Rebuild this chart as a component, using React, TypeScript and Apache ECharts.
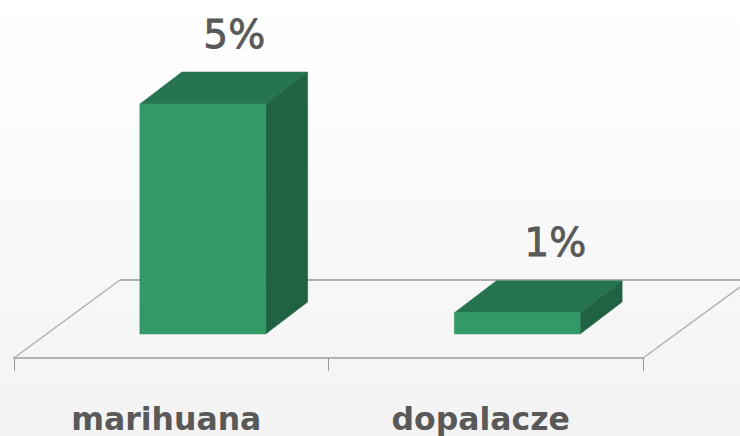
import React, { useEffect, useRef } from "react";
import * as echarts from "echarts";

const categories = ["marihuana", "dopalacze"];
const barHeights = [5, 0.46];
const valueLabels = ["5%", "1%"];
const labelShiftX = [63, 69.5];

const FRONT = "#339966";
const TOP = "#277550";
const SIDE = "#206344";
const TEXT = "#595959";
const LINE = "#b0b0b0";

const FLOOR_DX = 32;
const FLOOR_DY = 24;
const DEPTH_DX = 42;
const DEPTH_DY = 32;
const BAR_RATIO = 0.4;

function renderBar(params: any, api: any) {
  const i = api.value(0);
  const base = api.coord([i, 0]);
  const tip = api.coord([i, api.value(1)]);
  const w = api.size([1, 0])[0] * BAR_RATIO;
  const l = base[0] + FLOOR_DX - w / 2 - 0.5;
  const r = l + w;
  const b = base[1] - FLOOR_DY;
  const t = tip[1] - FLOOR_DY;
  const poly = (points: number[][], fill: string) => ({
    type: "polygon",
    shape: { points },
    style: { fill, stroke: fill, lineWidth: 0.5 },
  });
  return {
    type: "group",
    children: [
      poly([[l, t], [l + DEPTH_DX, t - DEPTH_DY], [r + DEPTH_DX, t - DEPTH_DY], [r, t]], TOP),
      poly([[r, t], [r + DEPTH_DX, t - DEPTH_DY], [r + DEPTH_DX, b - DEPTH_DY], [r, b]], SIDE),
      poly([[l, t], [r, t], [r, b], [l, b]], FRONT),
      {
        type: "text",
        style: {
          text: valueLabels[i],
          x: base[0] + labelShiftX[i],
          y: t - 70,
          align: "center",
          verticalAlign: "middle",
          fill: TEXT,
          stroke: TEXT,
          lineWidth: 0.8,
          font: "39px 'DejaVu Sans'",
        },
      },
    ],
  };
}

export default function App() {
  const ref = useRef<HTMLDivElement>(null);
  useEffect(() => {
    const chart = echarts.init(ref.current!, undefined, { renderer: "svg" });
    const floorLine = (x1: number, y1: number, x2: number, y2: number, lineWidth: number) => ({
      type: "line",
      z: 0,
      shape: { x1, y1, x2, y2 },
      style: { stroke: LINE, lineWidth },
    });
    chart.setOption({
      animation: false,
      backgroundColor: new echarts.graphic.LinearGradient(0, 0, 0, 1, [
        { offset: 0, color: "#ffffff" },
        { offset: 1, color: "#f3f3f3" },
      ]),
      grid: { left: 14, top: 82, width: 629, height: 276 },
      xAxis: {
        type: "category",
        data: categories,
        axisLine: { show: true, lineStyle: { color: LINE, width: 2 } },
        axisTick: { show: true, length: 13, lineStyle: { color: "#9a9a9a", width: 1 } },
        axisLabel: {
          color: TEXT,
          fontFamily: "DejaVu Sans",
          fontWeight: "bold",
          fontSize: 31.5,
          margin: 45,
          padding: [0, 10, 0, 0],
        },
      },
      yAxis: { type: "value", min: 0, max: 6, interval: 1, show: false },
      graphic: [
        floorLine(14, 358, 120, 280, 1.5),
        floorLine(120, 280, 740, 280, 2),
        floorLine(643, 358, 740, 287, 1.5),
      ],
      series: [
        {
          type: "custom",
          z: 5,
          clip: false,
          renderItem: renderBar,
          encode: { x: 0, y: 1 },
          data: barHeights.map((v, i) => [i, v]),
        },
      ],
    });
    return () => chart.dispose();
  }, []);
  return <div ref={ref} style={{ position: "absolute", left: 0, top: 0, width: 740, height: 436 }} />;
}
